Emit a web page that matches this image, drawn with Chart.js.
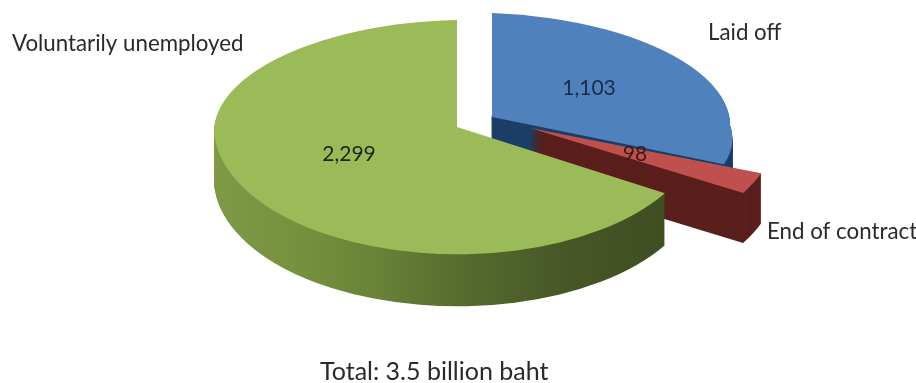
<!DOCTYPE html>
<html>
<head>
<meta charset="utf-8">
<title>Total: 3.5 billion baht</title>
<script src="https://cdn.jsdelivr.net/npm/chart.js@4"></script>
<style>
  html, body { margin: 0; padding: 0; background: #fff; }
  canvas { display: block; }
</style>
</head>
<body>
<canvas id="pieChart" width="916" height="383"></canvas>
<script>
const categories = ['Laid off', 'End of contract', 'Voluntarily unemployed'];
const amounts = [1103, 98, 2299];
const totalLabel = 'Total: 3.5 billion baht';

const topColors = ['#4f81bd', '#c0504d', '#9bbb59'];
const sideColors = ['#1b3f66', '#5a1f1c', null];

const FONT = 'Lato, "Open Sans", sans-serif';
const RADIUS = 240;

// Where each exploded slice lands on the page. Top and bottom half of the
// disc get their own matrix so the far side looks shorter than the near side.
const sliceViews = [
    { x: 492, y: 117, depth: 48, back: [0.992, 0.033, 0, 0.433], front: [0.992, 0.033, 0.14, 0.418] },
    { x: 530, y: 128, depth: 50, back: [1.022, -0.021, 0.065, 0.522], front: [1.022, -0.021, 0.065, 0.522] },
    { x: 457, y: 127, depth: 52, back: [1.0125, -0.02, 0, 0.446], front: [1.0125, -0.02, 0.04, 0.53] }
];

const valueSpots = [
    { x: 589, y: 88, color: '#1b2c4a' },
    { x: 635, y: 154, color: '#3d1a18' },
    { x: 349, y: 154, color: '#1c2812' }
];
const nameSpots = [
    { x: 708, y: 33 },
    { x: 767, y: 232 },
    { x: 12, y: 44 }
];

function drawHalf(ctx, arc, color, view, matrix, isFront, drop) {
    ctx.save();
    ctx.translate(view.x, view.y + drop);
    ctx.transform(matrix[0], matrix[1], matrix[2], matrix[3], 0, 0);
    ctx.translate(-arc.x, -arc.y);
    ctx.beginPath();
    if (isFront) {
        // a little overlap so no seam shows across the top face
        ctx.rect(arc.x - 600, arc.y - 4, 1200, 604);
    } else {
        ctx.rect(arc.x - 600, arc.y - 600, 1200, 600);
    }
    ctx.clip();
    // same arc element, only with another fill
    const options = Object.create(arc.options, { backgroundColor: { value: color } });
    Object.create(arc, { options: { value: options } }).draw(ctx);
    ctx.restore();
}

function drawSlice(ctx, arc, color, view, drop) {
    drawHalf(ctx, arc, color, view, view.back, false, drop);
    drawHalf(ctx, arc, color, view, view.front, true, drop);
}

const pie3d = {
    id: 'pie3d',
    beforeDatasetsDraw(chart) {
        const ctx = chart.ctx;
        const arcs = chart.getDatasetMeta(0).data;

        // green rim darkens from left to right
        const rim = ctx.createLinearGradient(arcs[2].x - RADIUS, 0, arcs[2].x + RADIUS, 0);
        rim.addColorStop(0, '#7f9a45');
        rim.addColorStop(0.18, '#74903e');
        rim.addColorStop(0.3, '#6a8438');
        rim.addColorStop(0.5, '#566b2e');
        rim.addColorStop(0.72, '#465626');
        rim.addColorStop(1, '#3d4b20');

        arcs.forEach(function (arc, i) {
            const view = sliceViews[i];
            for (let d = view.depth; d > 0; d--) {
                drawSlice(ctx, arc, sideColors[i] || rim, view, d);
            }
            drawSlice(ctx, arc, topColors[i], view, 0);
        });
        return false;
    },
    afterDraw(chart) {
        const ctx = chart.ctx;
        ctx.save();
        ctx.textBaseline = 'middle';
        ctx.font = '21px ' + FONT;

        ctx.textAlign = 'center';
        amounts.forEach(function (v, i) {
            ctx.fillStyle = valueSpots[i].color;
            ctx.fillText(v.toLocaleString('en-US'), valueSpots[i].x, valueSpots[i].y);
        });

        ctx.textAlign = 'left';
        ctx.fillStyle = '#2a2a2a';
        ctx.font = '22.3px ' + FONT;
        categories.forEach(function (name, i) {
            ctx.fillText(name, nameSpots[i].x, nameSpots[i].y);
        });
        ctx.font = '25px ' + FONT;
        ctx.fillText(totalLabel, 320, 372);
        ctx.restore();
    }
};

new Chart(document.getElementById('pieChart').getContext('2d'), {
    type: 'pie',
    plugins: [pie3d],
    data: {
        labels: categories,
        datasets: [{
            data: amounts,
            backgroundColor: topColors,
            borderWidth: 0
        }]
    },
    options: {
        responsive: false,
        animation: false,
        radius: RADIUS,
        plugins: {
            legend: { display: false },
            tooltip: { enabled: false }
        }
    }
});
</script>
</body>
</html>
